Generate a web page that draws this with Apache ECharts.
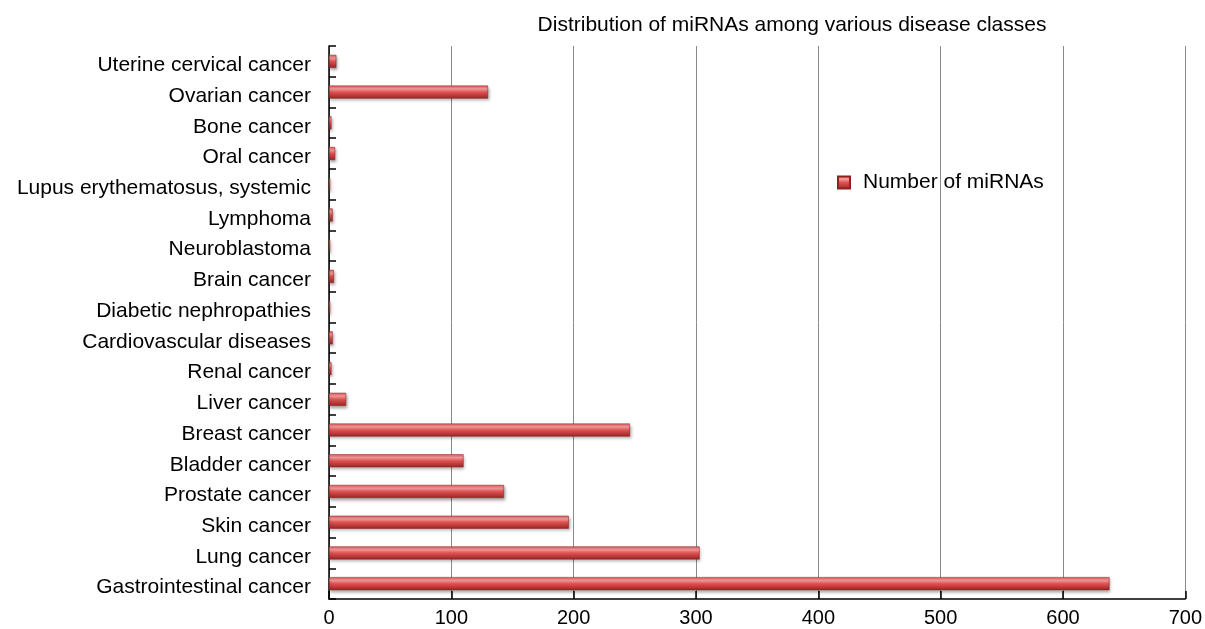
<!DOCTYPE html>
<html>
<head>
<meta charset="utf-8">
<script src="https://cdn.jsdelivr.net/npm/echarts@6/dist/echarts.min.js"></script>
<style>
  html, body { margin: 0; padding: 0; background: #fff; }
  #chart { width: 1205px; height: 629px; }
</style>
</head>
<body>
<div id="chart"></div>
<script>
// Disease classes, listed bottom to top on the category axis
const categories = [
  'Gastrointestinal cancer', 'Lung cancer', 'Skin cancer', 'Prostate cancer',
  'Bladder cancer', 'Breast cancer', 'Liver cancer', 'Renal cancer',
  'Cardiovascular diseases', 'Diabetic nephropathies', 'Brain cancer',
  'Neuroblastoma', 'Lymphoma', 'Lupus erythematosus, systemic', 'Oral cancer',
  'Bone cancer', 'Ovarian cancer', 'Uterine cervical cancer'
];
const mirnaCounts = [638, 303, 196, 143, 110, 246, 14, 2, 3, 1, 4, 1, 3, 1, 5, 2, 130, 6];
const xTicks = [0, 100, 200, 300, 400, 500, 600, 700];
const seriesName = 'Number of miRNAs';
const chartTitle = 'Distribution of miRNAs among various disease classes';

const font = '"Liberation Sans", Arial, sans-serif';

const barFill = new echarts.graphic.LinearGradient(0, 0, 0, 1, [
  { offset: 0, color: '#e05a5a' },
  { offset: 0.25, color: '#f59c9c' },
  { offset: 0.5, color: '#e05252' },
  { offset: 1, color: '#9a2424' }
]);

const chart = echarts.init(document.getElementById('chart'));
chart.setOption({
  backgroundColor: '#fff',
  title: {
    text: chartTitle,
    left: 787, top: 10, textAlign: 'center',
    textStyle: { fontFamily: font, fontSize: 21, fontWeight: 'normal', color: '#000' }
  },
  legend: {
    data: [seriesName],
    left: 837, top: 172, padding: 0,
    icon: 'rect', itemWidth: 12, itemHeight: 12, itemGap: 10,
    textStyle: { fontFamily: font, fontSize: 21, color: '#000', padding: [0, 0, 0, 8] }
  },
  grid: { left: 329, right: 17, top: 46, bottom: 30, containLabel: false },
  xAxis: {
    type: 'value', min: xTicks[0], max: xTicks[xTicks.length - 1], interval: 100,
    axisLine: { show: true, lineStyle: { color: '#000', width: 1.5 } },
    axisTick: { show: true, inside: true, length: 8, lineStyle: { color: '#000', width: 1.5 } },
    axisLabel: { fontFamily: font, fontSize: 20, color: '#000', margin: 9 },
    splitLine: { show: true, lineStyle: { color: '#8a8a8a', width: 1 } }
  },
  yAxis: {
    type: 'category', data: categories, boundaryGap: true,
    axisLine: { show: true, lineStyle: { color: '#000', width: 1.5 } },
    axisTick: { show: true, inside: true, length: 7, lineStyle: { color: '#000', width: 1.5 } },
    axisLabel: {
      fontFamily: font, fontSize: 21, color: '#000', margin: 18,
      verticalAlign: 'top', lineHeight: 8
    }
  },
  series: [{
    name: seriesName,
    type: 'bar',
    data: mirnaCounts,
    barWidth: 13,
    itemStyle: {
      color: barFill,
      borderColor: '#8e2020', borderWidth: 0.5,
      shadowColor: 'rgba(0,0,0,0.35)', shadowBlur: 3, shadowOffsetX: 1, shadowOffsetY: 2
    },
    animation: false
  }]
});
</script>
</body>
</html>
